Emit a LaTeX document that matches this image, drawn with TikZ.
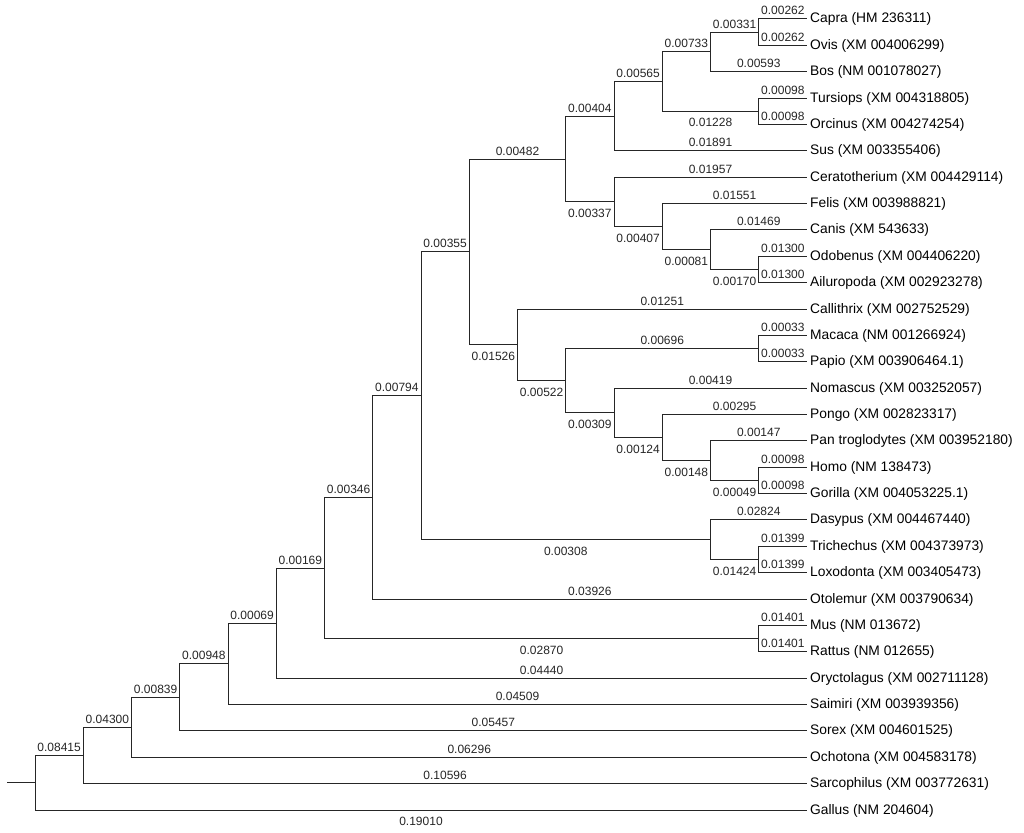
\documentclass[tikz,border=0pt]{standalone}
\usepackage{fontspec}
\setmainfont{Liberation Sans}
\begin{document}
\begin{tikzpicture}[x=1pt,y=-1pt,
  br/.style={line width=1pt, draw=black!85},
  taxon/.style={anchor=west, inner xsep=3pt, inner ysep=0pt, text height=11pt, text depth=3pt, font=\fontsize{13.8}{16}\selectfont},
  up/.style={pos=.75, anchor=base, yshift=4pt, inner sep=0pt, text=black!85, font=\fontsize{12}{14}\selectfont},
  dn/.style={pos=.75, anchor=base, yshift=-15.6pt, inner sep=0pt, text=black!85, font=\fontsize{12}{14}\selectfont}]
\fill[white] (0,0) rectangle (1024,832);
\useasboundingbox (0,0) rectangle (1024,832);
% leaves
\node[taxon] (Capra) at (807,19) {Capra (HM 236311)};
\node[taxon] (Ovis) at (807,45.37) {Ovis (XM 004006299)};
\node[taxon] (Bos) at (807,71.73) {Bos (NM 001078027)};
\node[taxon] (Tursiops) at (807,98.1) {Tursiops (XM 004318805)};
\node[taxon] (Orcinus) at (807,124.47) {Orcinus (XM 004274254)};
\node[taxon] (Sus) at (807,150.83) {Sus (XM 003355406)};
\node[taxon] (Cerato) at (807,177.2) {Ceratotherium (XM 004429114)};
\node[taxon] (Felis) at (807,203.57) {Felis (XM 003988821)};
\node[taxon] (Canis) at (807,229.93) {Canis (XM 543633)};
\node[taxon] (Odobenus) at (807,256.3) {Odobenus (XM 004406220)};
\node[taxon] (Ailuropoda) at (807,282.67) {Ailuropoda (XM 002923278)};
\node[taxon] (Callithrix) at (807,309.03) {Callithrix (XM 002752529)};
\node[taxon] (Macaca) at (807,335.4) {Macaca (NM 001266924)};
\node[taxon] (Papio) at (807,361.77) {Papio (XM 003906464.1)};
\node[taxon] (Nomascus) at (807,388.13) {Nomascus (XM 003252057)};
\node[taxon] (Pongo) at (807,414.5) {Pongo (XM 002823317)};
\node[taxon] (Pan) at (807,440.87) {Pan troglodytes (XM 003952180)};
\node[taxon] (Homo) at (807,467.23) {Homo (NM 138473)};
\node[taxon] (Gorilla) at (807,493.6) {Gorilla (XM 004053225.1)};
\node[taxon] (Dasypus) at (807,519.97) {Dasypus (XM 004467440)};
\node[taxon] (Trichechus) at (807,546.33) {Trichechus (XM 004373973)};
\node[taxon] (Loxodonta) at (807,572.7) {Loxodonta (XM 003405473)};
\node[taxon] (Otolemur) at (807,599.07) {Otolemur (XM 003790634)};
\node[taxon] (Mus) at (807,625.43) {Mus (NM 013672)};
\node[taxon] (Rattus) at (807,651.8) {Rattus (NM 012655)};
\node[taxon] (Oryctolagus) at (807,678.17) {Oryctolagus (XM 002711128)};
\node[taxon] (Saimiri) at (807,704.53) {Saimiri (XM 003939356)};
\node[taxon] (Sorex) at (807,730.9) {Sorex (XM 004601525)};
\node[taxon] (Ochotona) at (807,757.27) {Ochotona (XM 004583178)};
\node[taxon] (Sarcophilus) at (807,783.63) {Sarcophilus (XM 003772631)};
\node[taxon] (Gallus) at (807,810) {Gallus (NM 204604)};
% internal nodes
\coordinate (CO) at (758.75,32.18);
\coordinate (COB) at (710.5,51.96);
\coordinate (TO) at (758.75,111.28);
\coordinate (X) at (662.25,81.62);
\coordinate (J1) at (614,116.23);
\coordinate (OA) at (758.75,269.48);
\coordinate (CaOA) at (710.5,249.71);
\coordinate (FCa) at (662.25,226.64);
\coordinate (J2) at (614,201.92);
\coordinate (J) at (565.75,159.07);
\coordinate (MP) at (758.75,348.58);
\coordinate (HG) at (758.75,480.42);
\coordinate (PHG) at (710.5,460.64);
\coordinate (PoPHG) at (662.25,437.57);
\coordinate (N) at (614,412.85);
\coordinate (K2) at (565.75,380.72);
\coordinate (K) at (517.5,344.87);
\coordinate (I) at (469.25,251.97);
\coordinate (TL) at (758.75,559.52);
\coordinate (DTL) at (710.5,539.74);
\coordinate (H) at (421,395.86);
\coordinate (MR) at (758.75,638.62);
\coordinate (G) at (372.75,497.46);
\coordinate (F) at (324.5,568.04);
\coordinate (E) at (276.25,623.1);
\coordinate (D) at (228,663.82);
\coordinate (C) at (179.75,697.36);
\coordinate (B) at (131.5,727.31);
\coordinate (A) at (83.25,755.47);
\coordinate (R) at (35,782.74);
\coordinate (stub) at (7,782.74);
% branches
\draw[br] (stub) -- (R);
\draw[br] (R) |- (A) node[up] (e01) {0.08415};
\draw[br] (R) |- (Gallus.west) node[dn] (e02) {0.19010};
\draw[br] (A) |- (B) node[up] (e03) {0.04300};
\draw[br] (A) |- (Sarcophilus.west) node[up] (e04) {0.10596};
\draw[br] (B) |- (C) node[up] (e05) {0.00839};
\draw[br] (B) |- (Ochotona.west) node[up] (e06) {0.06296};
\draw[br] (C) |- (D) node[up] (e07) {0.00948};
\draw[br] (C) |- (Sorex.west) node[up] (e08) {0.05457};
\draw[br] (D) |- (E) node[up] (e09) {0.00069};
\draw[br] (D) |- (Saimiri.west) node[up] (e10) {0.04509};
\draw[br] (E) |- (F) node[up] (e11) {0.00169};
\draw[br] (E) |- (Oryctolagus.west) node[up] (e12) {0.04440};
\draw[br] (F) |- (G) node[up] (e13) {0.00346};
\draw[br] (F) |- (MR) node[dn] (e14) {0.02870};
\draw[br] (MR) |- (Mus.west) node[up] (e15) {0.01401};
\draw[br] (MR) |- (Rattus.west) node[up] (e16) {0.01401};
\draw[br] (G) |- (H) node[up] (e17) {0.00794};
\draw[br] (G) |- (Otolemur.west) node[up] (e18) {0.03926};
\draw[br] (H) |- (I) node[up] (e19) {0.00355};
\draw[br] (H) |- (DTL) node[dn] (e20) {0.00308};
\draw[br] (DTL) |- (Dasypus.west) node[up] (e21) {0.02824};
\draw[br] (DTL) |- (TL) node[dn] (e22) {0.01424};
\draw[br] (TL) |- (Trichechus.west) node[up] (e23) {0.01399};
\draw[br] (TL) |- (Loxodonta.west) node[up] (e24) {0.01399};
\draw[br] (I) |- (J) node[up] (e25) {0.00482};
\draw[br] (I) |- (K) node[dn] (e26) {0.01526};
\draw[br] (J) |- (J1) node[up] (e27) {0.00404};
\draw[br] (J) |- (J2) node[dn] (e28) {0.00337};
\draw[br] (J1) |- (X) node[up] (e29) {0.00565};
\draw[br] (J1) |- (Sus.west) node[up] (e30) {0.01891};
\draw[br] (X) |- (COB) node[up] (e31) {0.00733};
\draw[br] (X) |- (TO) node[dn] (e32) {0.01228};
\draw[br] (COB) |- (CO) node[up] (e33) {0.00331};
\draw[br] (COB) |- (Bos.west) node[up] (e34) {0.00593};
\draw[br] (CO) |- (Capra.west) node[up] (e35) {0.00262};
\draw[br] (CO) |- (Ovis.west) node[up] (e36) {0.00262};
\draw[br] (TO) |- (Tursiops.west) node[up] (e37) {0.00098};
\draw[br] (TO) |- (Orcinus.west) node[up] (e38) {0.00098};
\draw[br] (J2) |- (Cerato.west) node[up] (e39) {0.01957};
\draw[br] (J2) |- (FCa) node[dn] (e40) {0.00407};
\draw[br] (FCa) |- (Felis.west) node[up] (e41) {0.01551};
\draw[br] (FCa) |- (CaOA) node[dn] (e42) {0.00081};
\draw[br] (CaOA) |- (Canis.west) node[up] (e43) {0.01469};
\draw[br] (CaOA) |- (OA) node[dn] (e44) {0.00170};
\draw[br] (OA) |- (Odobenus.west) node[up] (e45) {0.01300};
\draw[br] (OA) |- (Ailuropoda.west) node[up] (e46) {0.01300};
\draw[br] (K) |- (Callithrix.west) node[up] (e47) {0.01251};
\draw[br] (K) |- (K2) node[dn] (e48) {0.00522};
\draw[br] (K2) |- (MP) node[up] (e49) {0.00696};
\draw[br] (K2) |- (N) node[dn] (e50) {0.00309};
\draw[br] (MP) |- (Macaca.west) node[up] (e51) {0.00033};
\draw[br] (MP) |- (Papio.west) node[up] (e52) {0.00033};
\draw[br] (N) |- (Nomascus.west) node[up] (e53) {0.00419};
\draw[br] (N) |- (PoPHG) node[dn] (e54) {0.00124};
\draw[br] (PoPHG) |- (Pongo.west) node[up] (e55) {0.00295};
\draw[br] (PoPHG) |- (PHG) node[dn] (e56) {0.00148};
\draw[br] (PHG) |- (Pan.west) node[up] (e57) {0.00147};
\draw[br] (PHG) |- (HG) node[dn] (e58) {0.00049};
\draw[br] (HG) |- (Homo.west) node[up] (e59) {0.00098};
\draw[br] (HG) |- (Gorilla.west) node[up] (e60) {0.00098};
\end{tikzpicture}
\end{document}
